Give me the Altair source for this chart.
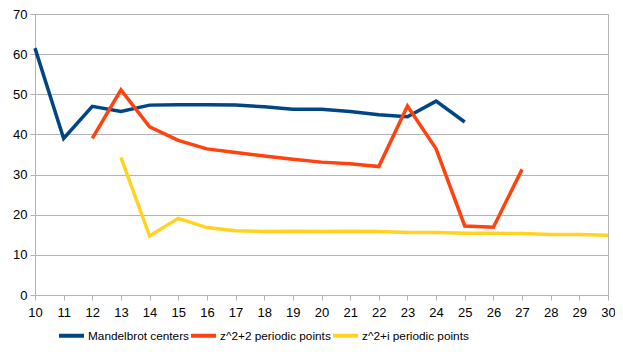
import altair as alt
import pandas as pd

x_mandel = [10, 11, 12, 13, 14, 15, 16, 17, 18, 19, 20, 21, 22, 23, 24, 25]
y_mandel = [61.5, 39.0, 47.0, 45.7, 47.3, 47.4, 47.4, 47.3, 46.9, 46.3, 46.3, 45.7, 44.9, 44.4, 48.3, 43.1]
x_z2 = [12, 13, 14, 15, 16, 17, 18, 19, 20, 21, 22, 23, 24, 25, 26, 27]
y_z2 = [39.0, 51.1, 41.9, 38.5, 36.4, 35.5, 34.6, 33.8, 33.1, 32.7, 32.0, 47.1, 36.4, 17.2, 16.9, 31.3]
x_zi = [13, 14, 15, 16, 17, 18, 19, 20, 21, 22, 23, 24, 25, 26, 27, 28, 29, 30]
y_zi = [34.3, 14.7, 19.1, 16.8, 16.0, 15.8, 15.9, 15.8, 15.9, 15.8, 15.6, 15.6, 15.4, 15.4, 15.3, 15.1, 15.1, 14.9]

series_names = ["Mandelbrot centers", "z^2+2 periodic points", "z^2+i periodic points"]
colors = ["#004586", "#ff420e", "#ffd320"]

rows = []
for name, xs, ys in zip(series_names, [x_mandel, x_z2, x_zi], [y_mandel, y_z2, y_zi]):
    for xv, yv in zip(xs, ys):
        rows.append({"n": xv, "value": yv, "series": name})
df = pd.DataFrame(rows)

font = "Liberation Sans"
chart = alt.Chart(df).mark_line(strokeWidth=3.5, strokeJoin="miter").encode(
    x=alt.X("n:Q", scale=alt.Scale(domain=[10, 30], nice=False),
            axis=alt.Axis(values=list(range(10, 31)), title=None, grid=False,
                          domainColor="#b3b3b3", tickColor="#b3b3b3", tickSize=5,
                          labelFont=font, labelFontSize=13, labelColor="#000000",
                          labelPadding=6, labelFlush=False)),
    y=alt.Y("value:Q", scale=alt.Scale(domain=[0, 70], nice=False),
            axis=alt.Axis(values=list(range(0, 71, 10)), title=None, grid=True,
                          gridColor="#b3b3b3", domainColor="#b3b3b3", tickColor="#b3b3b3",
                          tickSize=5, labelFont=font, labelFontSize=13, labelColor="#000000",
                          labelPadding=3)),
    color=alt.Color("series:N", scale=alt.Scale(domain=series_names, range=colors),
                    legend=alt.Legend(title=None, orient="none", direction="horizontal",
                                      legendX=22, legendY=307,
                                      symbolType="stroke", symbolSize=625, symbolStrokeWidth=4,
                                      labelFont=font, labelFontSize=11.8, labelColor="#000000",
                                      columnPadding=-7, labelOffset=2)),
    order="n:Q",
).properties(
    width=573, height=281,
    autosize=alt.AutoSizeParams(type="none"),
    padding={"left": 27, "top": 6, "right": 7, "bottom": 60},
).configure_view(stroke="#b3b3b3", strokeWidth=1)

chart.save("out.html", embed_options={"renderer": "svg", "actions": False})
